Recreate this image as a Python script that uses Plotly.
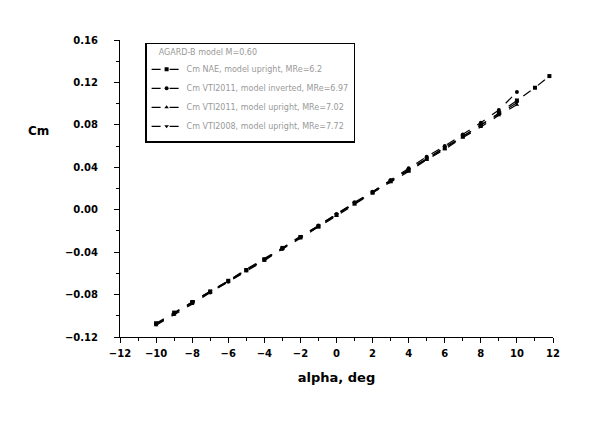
import plotly.graph_objects as go

# Data
alpha_nae = [-10, -9, -8, -7, -6, -5, -4, -3, -2, -1, 0, 1, 2, 3, 4, 5, 6, 7, 8, 9, 10, 11, 11.8]
cm_nae = [-0.107, -0.097, -0.087, -0.077, -0.067, -0.057, -0.047, -0.036, -0.026, -0.016, -0.005,
          0.006, 0.016, 0.027, 0.037, 0.048, 0.058, 0.069, 0.080, 0.091, 0.103, 0.115, 0.126]

alpha_vti11_inv = [-10, -9, -8, -7, -6, -5, -4, -3, -2, -1, 0, 1, 2, 3, 4, 5, 6, 7, 8, 9, 10]
cm_vti11_inv = [-0.108, -0.098, -0.088, -0.078, -0.068, -0.057, -0.047, -0.037, -0.026, -0.015, -0.004,
                0.007, 0.017, 0.028, 0.039, 0.050, 0.060, 0.071, 0.082, 0.094, 0.111]

alpha_vti11_up = [-10, -9, -8, -7, -6, -5, -4, -3, -2, -1, 0, 1, 2, 3, 4, 5, 6, 7, 8, 9, 10]
cm_vti11_up = [-0.109, -0.099, -0.089, -0.078, -0.068, -0.058, -0.048, -0.037, -0.027, -0.016, -0.006,
               0.005, 0.016, 0.026, 0.036, 0.047, 0.057, 0.068, 0.078, 0.089, 0.099]

alpha_vti08_up = [-10, -9, -8, -7, -6, -5, -4, -3, -2, -1, 0, 1, 2, 3, 4, 5, 6, 7, 8, 9, 10]
cm_vti08_up = [-0.108, -0.098, -0.087, -0.077, -0.067, -0.056, -0.046, -0.036, -0.025, -0.015, -0.004,
               0.006, 0.017, 0.027, 0.038, 0.048, 0.059, 0.069, 0.080, 0.090, 0.101]

names = ["Cm NAE, model upright, MRe=6.2",
         "Cm VTI2011, model inverted, MRe=6.97",
         "Cm VTI2011, model upright, MRe=7.02",
         "Cm VTI2008, model upright, MRe=7.72"]
symbols = ["square", "circle", "triangle-up", "triangle-down"]
series = [(alpha_nae, cm_nae), (alpha_vti11_inv, cm_vti11_inv),
          (alpha_vti11_up, cm_vti11_up), (alpha_vti08_up, cm_vti08_up)]

fig = go.Figure()
for (a, c), n, s in zip(series, names, symbols):
    fig.add_trace(go.Scatter(
        x=a, y=c, name=n, mode="lines+markers",
        line=dict(color="black", width=1.2, dash="dash"),
        marker=dict(symbol=s, size=4, color="black"),
    ))

tickfont = dict(family="DejaVu Sans", size=10, color="black", weight="bold")

fig.update_layout(
    width=600, height=421,
    margin=dict(l=112, r=55, t=32, b=92, autoexpand=False),
    paper_bgcolor="white", plot_bgcolor="white",
    showlegend=True,
    legend=dict(
        x=0.058, y=0.99, xanchor="left", yanchor="top",
        bordercolor="black", borderwidth=1.5, bgcolor="white",
        font=dict(family="DejaVu Sans", size=8, color="#999999"),
        title=dict(text="\u00a0\u00a0\u00a0\u00a0AGARD-B model M=0.60",
                   font=dict(family="DejaVu Sans", size=8, color="#999999")),
        tracegroupgap=0, itemwidth=30,
    ),
    xaxis=dict(
        range=[-12, 12], dtick=2, tick0=-12, showgrid=False, zeroline=False,
        showline=True, linecolor="black", linewidth=1,
        ticks="outside", ticklen=5, tickcolor="black",
        minor=dict(dtick=1, ticks="outside", ticklen=3, tickcolor="black", showgrid=False),
        tickfont=tickfont, ticklabelstandoff=2,
        title=dict(text="alpha, deg", standoff=14,
                   font=dict(family="DejaVu Sans", size=13, color="black", weight="bold")),
    ),
    yaxis=dict(
        range=[-0.12, 0.16], dtick=0.04, tick0=-0.12, showgrid=False, zeroline=False,
        showline=True, linecolor="black", linewidth=1,
        ticks="outside", ticklen=5, tickcolor="black", tickformat=".2f",
        minor=dict(dtick=0.02, ticks="outside", ticklen=3, tickcolor="black", showgrid=False),
        tickfont=tickfont, ticklabelstandoff=14,
    ),
    annotations=[dict(
        text="Cm", xref="paper", yref="paper", x=-0.189, y=0.694,
        xanchor="center", yanchor="middle", showarrow=False,
        font=dict(family="DejaVu Sans", size=12, color="black", weight="bold"),
    )],
)

fig.write_html("out.html")
